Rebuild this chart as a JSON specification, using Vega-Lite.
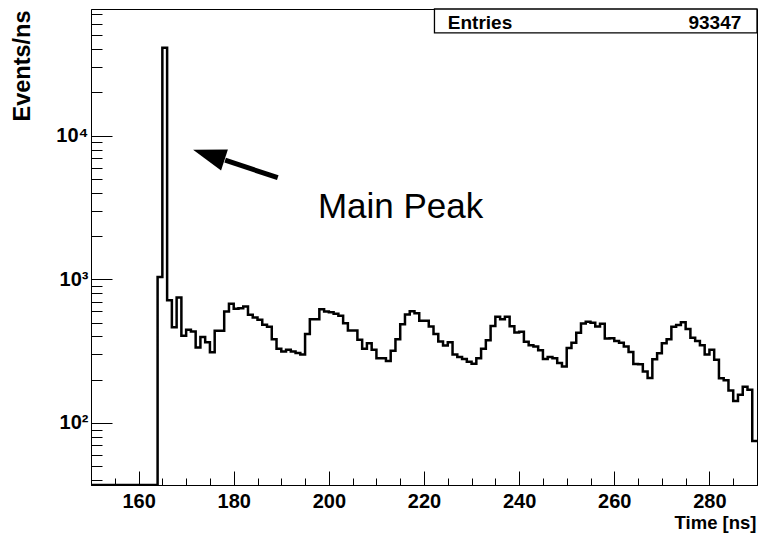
{
  "$schema": "https://vega.github.io/schema/vega-lite/v6.json",
  "width": 666,
  "height": 476,
  "autosize": "none",
  "padding": {"left": 91, "top": 9, "right": 2, "bottom": 50},
  "background": "white",
  "config": {
    "font": "Liberation Sans",
    "view": {"stroke": "#000000", "strokeWidth": 1}
  },
  "encoding": {
    "x": {
      "field": "t",
      "type": "quantitative",
      "scale": {"domain": [150, 290], "nice": false, "zero": false},
      "axis": {
        "title": "Time [ns]",
        "values": [150,155,160,165,170,175,180,185,190,195,200,205,210,215,220,225,230,235,240,245,250,255,260,265,270,275,280,285,290],
        "labelExpr": "datum.value % 20 === 0 && datum.value > 150 && datum.value < 290 ? datum.label : ''",
        "tickSize": {"condition": {"test": "datum.value % 20 === 0", "value": -14}, "value": -7},
        "tickColor": "#000000",
        "tickWidth": 1,
        "domainColor": "#000000",
        "domainWidth": 1,
        "grid": false,
        "labelFont": "Liberation Sans",
        "labelFontWeight": "bold",
        "labelFontSize": 20,
        "labelColor": "#000000",
        "labelPadding": 20,
        "labelFlush": false,
        "labelOverlap": false,
        "titleFont": "Liberation Sans",
        "titleFontWeight": "bold",
        "titleFontSize": 18.5,
        "titleColor": "#000000",
        "titleAlign": "right",
        "titleAnchor": "end",
        "titleBaseline": "alphabetic",
        "titleX": 665,
        "titleY": 43
      }
    },
    "y": {
      "field": "v",
      "type": "quantitative",
      "scale": {"type": "log", "domain": [37, 76120], "nice": false, "clamp": true},
      "axis": {
        "title": "Events/ns",
        "values": [40,50,60,70,80,90,100,200,300,400,500,600,700,800,900,1000,2000,3000,4000,5000,6000,7000,8000,9000,10000,20000,30000,40000,50000,60000,70000],
        "labelExpr": "datum.value == 100 ? '10²' : datum.value == 1000 ? '10³' : datum.value == 10000 ? '10⁴' : ''",
        "tickSize": {"condition": {"test": "datum.value == 100 || datum.value == 1000 || datum.value == 10000", "value": -21}, "value": -11},
        "tickColor": "#000000",
        "tickWidth": 1,
        "domainColor": "#000000",
        "domainWidth": 1,
        "grid": false,
        "labelFont": "Liberation Sans",
        "labelFontWeight": "bold",
        "labelFontSize": 20,
        "labelColor": "#000000",
        "labelPadding": 24,
        "labelFlush": false,
        "labelOverlap": false,
        "titleFont": "Liberation Sans",
        "titleFontWeight": "bold",
        "titleFontSize": 23.5,
        "titleColor": "#000000",
        "titleAngle": -90,
        "titleAlign": "right",
        "titleAnchor": "end",
        "titleBaseline": "alphabetic",
        "titleX": -62,
        "titleY": 1
      }
    }
  },
  "layer": [
    {
      "data": {"values": [
        {"t":150,"v":0},{"t":151,"v":0},{"t":152,"v":0},{"t":153,"v":0},{"t":154,"v":0},{"t":155,"v":0},{"t":156,"v":0},{"t":157,"v":0},{"t":158,"v":0},{"t":159,"v":0},
        {"t":160,"v":0},{"t":161,"v":0},{"t":162,"v":0},{"t":163,"v":0},{"t":164,"v":1036},{"t":165,"v":40840},{"t":166,"v":716},{"t":167,"v":464},{"t":168,"v":747},{"t":169,"v":404},
        {"t":170,"v":445},{"t":171,"v":433},{"t":172,"v":335},{"t":173,"v":396},{"t":174,"v":365},{"t":175,"v":311},{"t":176,"v":438},{"t":177,"v":438},{"t":178,"v":597},{"t":179,"v":675},
        {"t":180,"v":623},{"t":181,"v":630},{"t":182,"v":646},{"t":183,"v":566},{"t":184,"v":542},{"t":185,"v":522},{"t":186,"v":482},{"t":187,"v":467},{"t":188,"v":383},{"t":189,"v":328},
        {"t":190,"v":314},{"t":191,"v":323},{"t":192,"v":314},{"t":193,"v":307},{"t":194,"v":300},{"t":195,"v":417},{"t":196,"v":528},{"t":197,"v":528},{"t":198,"v":620},{"t":199,"v":597},
        {"t":200,"v":589},{"t":201,"v":575},{"t":202,"v":557},{"t":203,"v":495},{"t":204,"v":440},{"t":205,"v":440},{"t":206,"v":379},{"t":207,"v":329},{"t":208,"v":359},{"t":209,"v":323},
        {"t":210,"v":282},{"t":211,"v":282},{"t":212,"v":270},{"t":213,"v":318},{"t":214,"v":383},{"t":215,"v":486},{"t":216,"v":570},{"t":217,"v":600},{"t":218,"v":581},{"t":219,"v":514},
        {"t":220,"v":514},{"t":221,"v":469},{"t":222,"v":417},{"t":223,"v":369},{"t":224,"v":346},{"t":225,"v":364},{"t":226,"v":300},{"t":227,"v":288},{"t":228,"v":279},{"t":229,"v":267},
        {"t":230,"v":258},{"t":231,"v":282},{"t":232,"v":328},{"t":233,"v":376},{"t":234,"v":474},{"t":235,"v":548},{"t":236,"v":528},{"t":237,"v":548},{"t":238,"v":472},{"t":239,"v":427},
        {"t":240,"v":431},{"t":241,"v":367},{"t":242,"v":347},{"t":243,"v":340},{"t":244,"v":321},{"t":245,"v":279},{"t":246,"v":288},{"t":247,"v":282},{"t":248,"v":261},{"t":249,"v":247},
        {"t":250,"v":332},{"t":251,"v":361},{"t":252,"v":424},{"t":253,"v":492},{"t":254,"v":506},{"t":255,"v":498},{"t":256,"v":469},{"t":257,"v":490},{"t":258,"v":387},{"t":259,"v":389},
        {"t":260,"v":372},{"t":261,"v":361},{"t":262,"v":340},{"t":263,"v":312},{"t":264,"v":257},{"t":265,"v":256},{"t":266,"v":228},{"t":267,"v":206},{"t":268,"v":278},{"t":269,"v":306},
        {"t":270,"v":359},{"t":271,"v":383},{"t":272,"v":467},{"t":273,"v":480},{"t":274,"v":502},{"t":275,"v":450},{"t":276,"v":392},{"t":277,"v":372},{"t":278,"v":348},{"t":279,"v":300},
        {"t":280,"v":323},{"t":281,"v":275},{"t":282,"v":205},{"t":283,"v":198},{"t":284,"v":168},{"t":285,"v":142},{"t":286,"v":157},{"t":287,"v":179},{"t":288,"v":170},{"t":289,"v":75},
        {"t":290,"v":75}
      ]},
      "mark": {"type": "line", "interpolate": "step-after", "color": "#000000", "strokeWidth": 2.5, "invalid": "show", "clip": true}
    },
    {
      "data": {"values": [{"t": 222.2, "t2": 290, "v": 52000, "v2": 76120}]},
      "mark": {"type": "rect", "fill": "#ffffff", "stroke": "#000000", "strokeWidth": 1.3},
      "encoding": {"x2": {"field": "t2"}, "y2": {"field": "v2"}}
    },
    {
      "data": {"values": [{"t": 225.0, "v": 55400, "label": "Entries"}]},
      "mark": {"type": "text", "align": "left", "baseline": "alphabetic", "fontSize": 19, "fontWeight": "bold", "font": "Liberation Sans", "color": "#000000"},
      "encoding": {"text": {"field": "label"}}
    },
    {
      "data": {"values": [{"t": 286.7, "v": 55400, "label": "93347"}]},
      "mark": {"type": "text", "align": "right", "baseline": "alphabetic", "fontSize": 19, "fontWeight": "bold", "font": "Liberation Sans", "color": "#000000"},
      "encoding": {"text": {"field": "label"}}
    },
    {
      "data": {"values": [{"t": 178.2, "v": 6751, "t2": 189.26, "v2": 5097}]},
      "mark": {"type": "rule", "color": "#000000", "strokeWidth": 5, "strokeCap": "butt"},
      "encoding": {"x2": {"field": "t2"}, "y2": {"field": "v2"}}
    },
    {
      "data": {"values": [{"t": 174.76, "v": 7343}]},
      "mark": {"type": "point", "shape": "M-1,0L1,-0.67L1,0.67Z", "filled": true, "color": "#000000", "opacity": 1, "size": 1089, "angle": 18}
    },
    {
      "data": {"values": [{"t": 197.7, "v": 2683, "label": "Main Peak"}]},
      "mark": {"type": "text", "align": "left", "baseline": "alphabetic", "fontSize": 35, "font": "Liberation Sans", "color": "#000000"},
      "encoding": {"text": {"field": "label"}}
    }
  ]
}
